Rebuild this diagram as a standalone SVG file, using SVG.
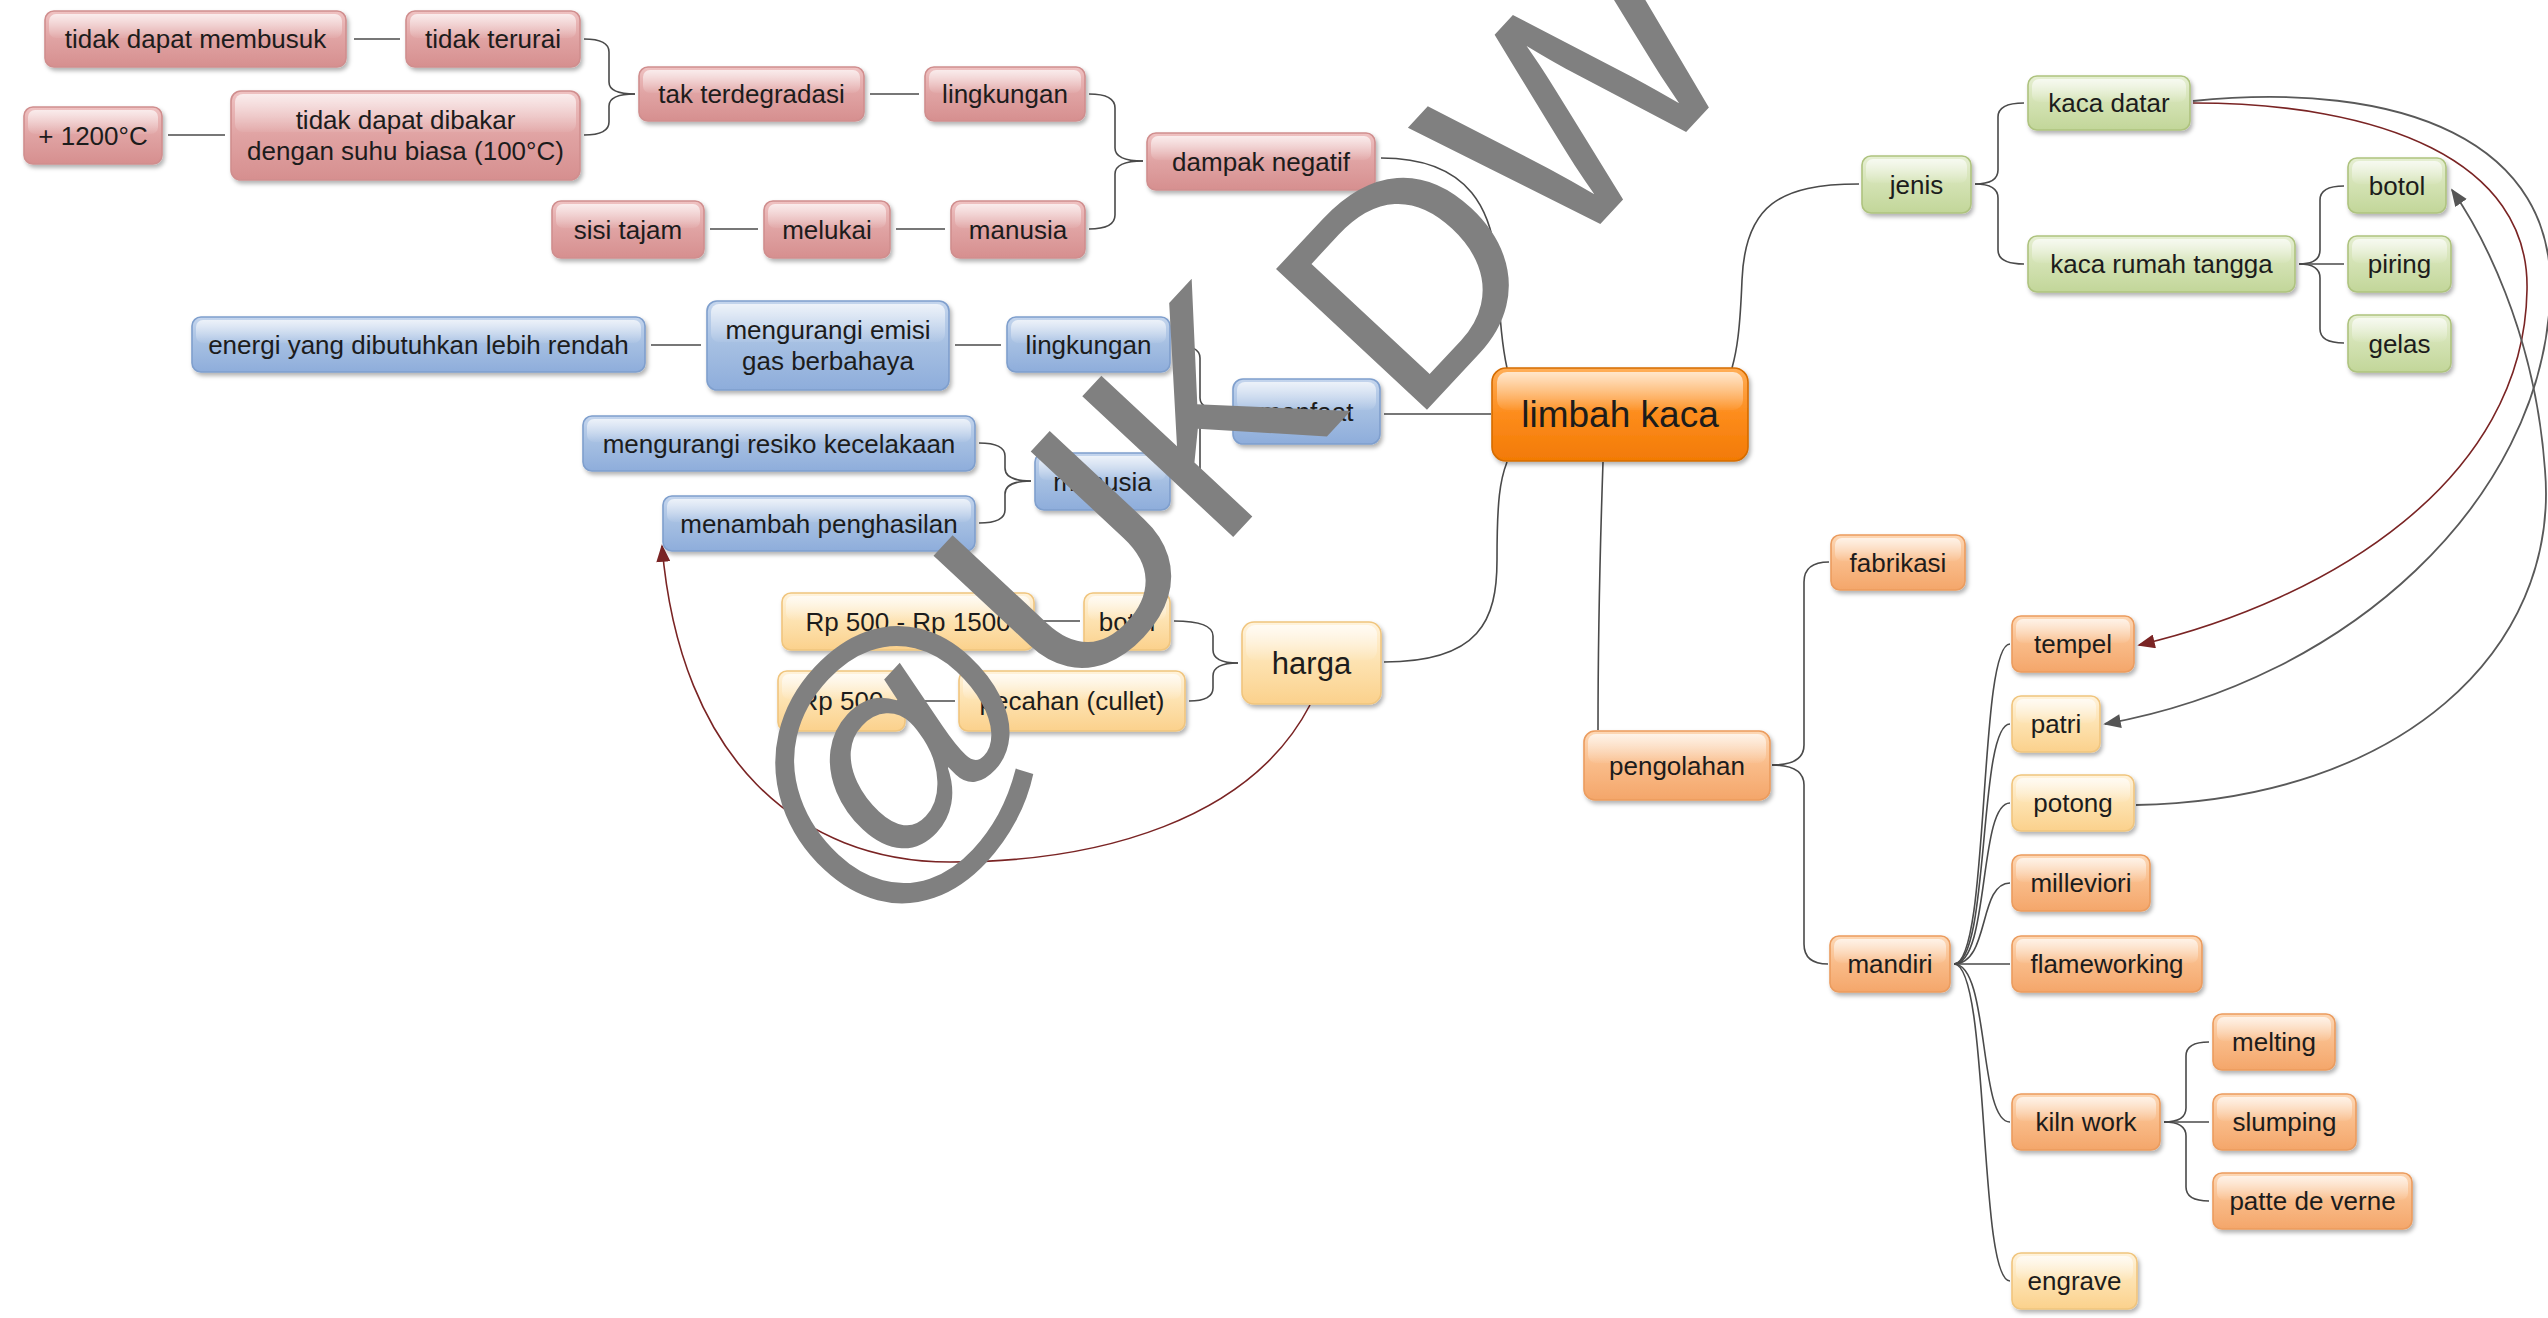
<svg xmlns="http://www.w3.org/2000/svg" width="2548" height="1318" viewBox="0 0 2548 1318">
<defs>
<linearGradient id="gR" x1="0" y1="0" x2="0" y2="1"><stop offset="0" stop-color="#efc2c2"/><stop offset="0.5" stop-color="#e0a3a3"/><stop offset="1" stop-color="#d68f8f"/></linearGradient>
<linearGradient id="gB" x1="0" y1="0" x2="0" y2="1"><stop offset="0" stop-color="#c4d5ed"/><stop offset="0.5" stop-color="#a5bfe2"/><stop offset="1" stop-color="#8eaddb"/></linearGradient>
<linearGradient id="gG" x1="0" y1="0" x2="0" y2="1"><stop offset="0" stop-color="#e6efd3"/><stop offset="0.5" stop-color="#d3e2b3"/><stop offset="1" stop-color="#c2d699"/></linearGradient>
<linearGradient id="gO" x1="0" y1="0" x2="0" y2="1"><stop offset="0" stop-color="#fdd8b6"/><stop offset="0.5" stop-color="#f9bb88"/><stop offset="1" stop-color="#f4a66a"/></linearGradient>
<linearGradient id="gY" x1="0" y1="0" x2="0" y2="1"><stop offset="0" stop-color="#fff3dc"/><stop offset="0.5" stop-color="#fde2b0"/><stop offset="1" stop-color="#fbd18c"/></linearGradient>
<linearGradient id="gC" x1="0" y1="0" x2="0" y2="1"><stop offset="0" stop-color="#ffae57"/><stop offset="0.5" stop-color="#fd8c1c"/><stop offset="1" stop-color="#f27a05"/></linearGradient>
<linearGradient id="gH" x1="0" y1="0" x2="0" y2="1"><stop offset="0" stop-color="#ffffff" stop-opacity="0.7"/><stop offset="1" stop-color="#ffffff" stop-opacity="0.05"/></linearGradient>
<filter id="sh" x="-10%" y="-20%" width="130%" height="160%"><feDropShadow dx="2" dy="3" stdDeviation="2" flood-color="#000" flood-opacity="0.3"/></filter>
<marker id="mG" viewBox="0 0 10 8" refX="9" refY="4" markerWidth="18" markerHeight="14" markerUnits="userSpaceOnUse" orient="auto"><path d="M0,0 L10,4 L0,8 z" fill="#555555"/></marker>
<marker id="mR" viewBox="0 0 10 8" refX="9" refY="4" markerWidth="18" markerHeight="14" markerUnits="userSpaceOnUse" orient="auto"><path d="M0,0 L10,4 L0,8 z" fill="#7a2424"/></marker>
<style>
.box{stroke-width:1.6;filter:url(#sh)}
.hl{fill:url(#gH)}
.r .box{fill:url(#gR);stroke:#d08e8e}
.b .box{fill:url(#gB);stroke:#7f9fcd}
.g .box{fill:url(#gG);stroke:#aec37f}
.o .box{fill:url(#gO);stroke:#eb9c5e}
.y .box{fill:url(#gY);stroke:#f0c57e}
.c .box{fill:url(#gC);stroke:#d56c00}
.t{font-family:"Liberation Sans",Arial,sans-serif;font-size:26px;fill:#1c1c1c;text-anchor:middle}
.big{font-size:37px}
.mid{font-size:31px}
.cn{fill:none;stroke:#4a4a4a;stroke-width:1.6}
.ag{fill:none;stroke:#595959;stroke-width:1.8;marker-end:url(#mG)}
.ar{fill:none;stroke:#7a2424;stroke-width:1.6;marker-end:url(#mR)}
.wm{font-family:"Liberation Sans",Arial,sans-serif;font-size:300px;fill:#808080;text-anchor:start}
</style>
</defs>
<rect width="2548" height="1318" fill="#ffffff"/>

<g id="connectors">
<path class="cn" d="M354,39 L400,39"/>
<path class="cn" d="M168,135 L225,135"/>
<path class="cn" d="M584,39 Q609,39 609,52 L609,82 Q609,94 635,94"/>
<path class="cn" d="M584,135 Q609,135 609,122 L609,106 Q609,94 635,94"/>
<path class="cn" d="M870,94 L919,94"/>
<path class="cn" d="M710,229 L758,229"/>
<path class="cn" d="M896,229 L945,229"/>
<path class="cn" d="M1089,94 Q1115,94 1115,108 L1115,148 Q1115,161 1143,161"/>
<path class="cn" d="M1089,229 Q1115,229 1115,215 L1115,174 Q1115,161 1143,161"/>
<path class="cn" d="M651,345 L701,345"/>
<path class="cn" d="M955,345 L1001,345"/>
<path class="cn" d="M1174,345 Q1200,345 1200,358 L1200,398 Q1200,411 1229,411"/>
<path class="cn" d="M1174,481 Q1200,481 1200,468 L1200,424 Q1200,411 1229,411"/>
<path class="cn" d="M979,443 Q1005,443 1005,456 L1005,468 Q1005,481 1031,481"/>
<path class="cn" d="M979,523 Q1005,523 1005,510 L1005,494 Q1005,481 1031,481"/>
<path class="cn" d="M1040,621 L1080,621"/>
<path class="cn" d="M911,701 L955,701"/>
<path class="cn" d="M1174,621 Q1213,621 1213,636 L1213,650 Q1213,663 1238,663"/>
<path class="cn" d="M1189,701 Q1213,701 1213,688 L1213,676 Q1213,663 1238,663"/>
<path class="cn" d="M1381,158 C1470,158 1495,210 1498,280 C1500,330 1503,350 1507,368"/>
<path class="cn" d="M1384,414 L1491,414"/>
<path class="cn" d="M1384,662 C1480,662 1497,620 1497,560 C1497,500 1500,480 1507,462"/>
<path class="cn" d="M1859,184 C1780,184 1745,205 1742,280 C1740,330 1737,350 1732,368"/>
<path class="cn" d="M1603,462 C1600,550 1598,650 1598,730"/>
<path class="cn" d="M1975,184 Q1998,184 1998,170 L1998,117 Q1998,103 2024,103"/>
<path class="cn" d="M1975,184 Q1998,184 1998,198 L1998,250 Q1998,264 2024,264"/>
<path class="cn" d="M2299,264 Q2320,264 2320,250 L2320,200 Q2320,186 2344,186"/>
<path class="cn" d="M2299,264 L2344,264"/>
<path class="cn" d="M2299,264 Q2320,264 2320,278 L2320,329 Q2320,343 2344,343"/>
<path class="cn" d="M1772,765 Q1804,765 1804,745 L1804,582 Q1804,562 1829,562"/>
<path class="cn" d="M1772,765 Q1804,765 1804,785 L1804,944 Q1804,964 1828,964"/>
<path class="cn" d="M1954,964 C1990,964 1978,644 2010,644"/>
<path class="cn" d="M1954,964 C1990,964 1978,724 2010,724"/>
<path class="cn" d="M1954,964 C1990,964 1978,803 2010,803"/>
<path class="cn" d="M1954,964 C1990,964 1978,883 2010,883"/>
<path class="cn" d="M1954,964 L2010,964"/>
<path class="cn" d="M1954,964 C1990,964 1978,1122 2010,1122"/>
<path class="cn" d="M1954,964 C1990,964 1978,1281 2010,1281"/>
<path class="cn" d="M2164,1122 Q2186,1122 2186,1108 L2186,1056 Q2186,1042 2209,1042"/>
<path class="cn" d="M2164,1122 L2209,1122"/>
<path class="cn" d="M2164,1122 Q2186,1122 2186,1136 L2186,1187 Q2186,1201 2209,1201"/>
<path class="ar" d="M1310,705 C1250,820 1100,862 950,862 C800,862 680,760 662,546"/>
<path class="ar" d="M2193,103 C2380,103 2530,160 2527,290 C2524,480 2330,600 2139,645"/>
<path class="ag" d="M2193,101 C2400,80 2560,140 2550,300 C2540,500 2350,680 2105,724"/>
<path class="ag" d="M2136,805 C2400,800 2560,650 2545,470 C2535,330 2480,230 2452,190"/>
</g>

<g id="n-tidak-dapat-membusuk" class="r"><rect class="box" x="45" y="11" width="301" height="56" rx="9"/><rect class="hl" x="49" y="14" width="293" height="24" rx="7"/><text class="t" x="195.5" y="48">tidak dapat membusuk</text></g>
<g id="n-tidak-terurai" class="r"><rect class="box" x="406" y="11" width="174" height="56" rx="9"/><rect class="hl" x="410" y="14" width="166" height="24" rx="7"/><text class="t" x="493" y="48">tidak terurai</text></g>
<g id="n-1200" class="r"><rect class="box" x="24" y="107" width="138" height="57" rx="9"/><rect class="hl" x="28" y="110" width="130" height="24" rx="7"/><text class="t" x="93" y="144.5">+ 1200°C</text></g>
<g id="n-tidak-dapat-dibakar" class="r"><rect class="box" x="231" y="91" width="349" height="89" rx="10"/><rect class="hl" x="235" y="94" width="341" height="38" rx="8"/><text class="t" x="405.5" y="129">tidak dapat dibakar</text><text class="t" x="405.5" y="160">dengan suhu biasa (100°C)</text></g>
<g id="n-tak-terdegradasi" class="r"><rect class="box" x="639" y="67" width="225" height="54" rx="9"/><rect class="hl" x="643" y="70" width="217" height="23" rx="7"/><text class="t" x="751.5" y="103">tak terdegradasi</text></g>
<g id="n-lingkungan-neg" class="r"><rect class="box" x="925" y="67" width="160" height="54" rx="9"/><rect class="hl" x="929" y="70" width="152" height="23" rx="7"/><text class="t" x="1005" y="103">lingkungan</text></g>
<g id="n-dampak-negatif" class="r"><rect class="box" x="1147" y="133" width="228" height="57" rx="9"/><rect class="hl" x="1151" y="136" width="220" height="24" rx="7"/><text class="t" x="1261" y="170.5">dampak negatif</text></g>
<g id="n-sisi-tajam" class="r"><rect class="box" x="552" y="201" width="152" height="57" rx="9"/><rect class="hl" x="556" y="204" width="144" height="24" rx="7"/><text class="t" x="628" y="238.5">sisi tajam</text></g>
<g id="n-melukai" class="r"><rect class="box" x="764" y="201" width="126" height="57" rx="9"/><rect class="hl" x="768" y="204" width="118" height="24" rx="7"/><text class="t" x="827" y="238.5">melukai</text></g>
<g id="n-manusia-neg" class="r"><rect class="box" x="951" y="201" width="134" height="57" rx="9"/><rect class="hl" x="955" y="204" width="126" height="24" rx="7"/><text class="t" x="1018" y="238.5">manusia</text></g>

<g id="n-energi" class="b"><rect class="box" x="192" y="317" width="453" height="55" rx="9"/><rect class="hl" x="196" y="320" width="445" height="23" rx="7"/><text class="t" x="418.5" y="353.5">energi yang dibutuhkan lebih rendah</text></g>
<g id="n-mengurangi-emisi" class="b"><rect class="box" x="707" y="301" width="242" height="89" rx="10"/><rect class="hl" x="711" y="304" width="234" height="38" rx="8"/><text class="t" x="828" y="339">mengurangi emisi</text><text class="t" x="828" y="370">gas berbahaya</text></g>
<g id="n-lingkungan-man" class="b"><rect class="box" x="1007" y="317" width="163" height="55" rx="9"/><rect class="hl" x="1011" y="320" width="155" height="23" rx="7"/><text class="t" x="1088.5" y="353.5">lingkungan</text></g>
<g id="n-manfaat" class="b"><rect class="box" x="1233" y="379" width="147" height="65" rx="10"/><rect class="hl" x="1237" y="382" width="139" height="28" rx="8"/><text class="t" x="1306.5" y="421">manfaat</text></g>
<g id="n-mengurangi-resiko" class="b"><rect class="box" x="583" y="416" width="392" height="55" rx="9"/><rect class="hl" x="587" y="419" width="384" height="23" rx="7"/><text class="t" x="779" y="452.5">mengurangi resiko kecelakaan</text></g>
<g id="n-manusia-man" class="b"><rect class="box" x="1035" y="453" width="135" height="57" rx="9"/><rect class="hl" x="1039" y="456" width="127" height="24" rx="7"/><text class="t" x="1102.5" y="490.5">manusia</text></g>
<g id="n-menambah" class="b"><rect class="box" x="663" y="496" width="312" height="55" rx="9"/><rect class="hl" x="667" y="499" width="304" height="23" rx="7"/><text class="t" x="819" y="532.5">menambah penghasilan</text></g>

<g id="n-limbah-kaca" class="c"><rect class="box" x="1492" y="368" width="256" height="93" rx="14"/><rect class="hl" x="1497" y="372" width="246" height="38" rx="10"/><text class="t big" x="1620" y="427">limbah kaca</text></g>

<g id="n-rp-500-1500" class="y"><rect class="box" x="782" y="593" width="252" height="57" rx="9"/><rect class="hl" x="786" y="596" width="244" height="24" rx="7"/><text class="t" x="908" y="630.5">Rp 500 - Rp 1500</text></g>
<g id="n-botol-harga" class="y"><rect class="box" x="1084" y="593" width="86" height="57" rx="9"/><rect class="hl" x="1088" y="596" width="78" height="24" rx="7"/><text class="t" x="1127" y="630.5">botol</text></g>
<g id="n-harga" class="y"><rect class="box" x="1242" y="622" width="139" height="82" rx="12"/><rect class="hl" x="1246" y="625" width="131" height="35" rx="9"/><text class="t mid" x="1311.5" y="674">harga</text></g>
<g id="n-rp-500" class="y"><rect class="box" x="778" y="671" width="127" height="60" rx="9"/><rect class="hl" x="782" y="674" width="119" height="25" rx="7"/><text class="t" x="841.5" y="710">Rp 500</text></g>
<g id="n-pecahan" class="y"><rect class="box" x="959" y="671" width="226" height="60" rx="9"/><rect class="hl" x="963" y="674" width="218" height="25" rx="7"/><text class="t" x="1072" y="710">pecahan (cullet)</text></g>

<g id="n-jenis" class="g"><rect class="box" x="1862" y="156" width="109" height="57" rx="9"/><rect class="hl" x="1866" y="159" width="101" height="24" rx="7"/><text class="t" x="1916.5" y="193.5">jenis</text></g>
<g id="n-kaca-datar" class="g"><rect class="box" x="2028" y="76" width="162" height="54" rx="9"/><rect class="hl" x="2032" y="79" width="154" height="23" rx="7"/><text class="t" x="2109" y="112">kaca datar</text></g>
<g id="n-kaca-rumah-tangga" class="g"><rect class="box" x="2028" y="236" width="267" height="56" rx="9"/><rect class="hl" x="2032" y="239" width="259" height="24" rx="7"/><text class="t" x="2161.5" y="273">kaca rumah tangga</text></g>
<g id="n-botol-jenis" class="g"><rect class="box" x="2348" y="158" width="98" height="55" rx="9"/><rect class="hl" x="2352" y="161" width="90" height="23" rx="7"/><text class="t" x="2397" y="194.5">botol</text></g>
<g id="n-piring" class="g"><rect class="box" x="2348" y="236" width="103" height="56" rx="9"/><rect class="hl" x="2352" y="239" width="95" height="24" rx="7"/><text class="t" x="2399.5" y="273">piring</text></g>
<g id="n-gelas" class="g"><rect class="box" x="2348" y="315" width="103" height="57" rx="9"/><rect class="hl" x="2352" y="318" width="95" height="24" rx="7"/><text class="t" x="2399.5" y="352.5">gelas</text></g>

<g id="n-pengolahan" class="o"><rect class="box" x="1584" y="731" width="186" height="69" rx="11"/><rect class="hl" x="1588" y="734" width="178" height="29" rx="8"/><text class="t" x="1677" y="775">pengolahan</text></g>
<g id="n-fabrikasi" class="o"><rect class="box" x="1831" y="535" width="134" height="55" rx="9"/><rect class="hl" x="1835" y="538" width="126" height="23" rx="7"/><text class="t" x="1898" y="571.5">fabrikasi</text></g>
<g id="n-mandiri" class="o"><rect class="box" x="1830" y="936" width="120" height="56" rx="9"/><rect class="hl" x="1834" y="939" width="112" height="24" rx="7"/><text class="t" x="1890" y="973">mandiri</text></g>
<g id="n-tempel" class="o"><rect class="box" x="2012" y="616" width="122" height="56" rx="9"/><rect class="hl" x="2016" y="619" width="114" height="24" rx="7"/><text class="t" x="2073" y="653">tempel</text></g>
<g id="n-patri" class="y"><rect class="box" x="2012" y="696" width="88" height="56" rx="9"/><rect class="hl" x="2016" y="699" width="80" height="24" rx="7"/><text class="t" x="2056" y="733">patri</text></g>
<g id="n-potong" class="y"><rect class="box" x="2012" y="775" width="122" height="56" rx="9"/><rect class="hl" x="2016" y="778" width="114" height="24" rx="7"/><text class="t" x="2073" y="812">potong</text></g>
<g id="n-milleviori" class="o"><rect class="box" x="2012" y="855" width="138" height="56" rx="9"/><rect class="hl" x="2016" y="858" width="130" height="24" rx="7"/><text class="t" x="2081" y="892">milleviori</text></g>
<g id="n-flameworking" class="o"><rect class="box" x="2012" y="936" width="190" height="56" rx="9"/><rect class="hl" x="2016" y="939" width="182" height="24" rx="7"/><text class="t" x="2107" y="973">flameworking</text></g>
<g id="n-kiln-work" class="o"><rect class="box" x="2012" y="1094" width="148" height="56" rx="9"/><rect class="hl" x="2016" y="1097" width="140" height="24" rx="7"/><text class="t" x="2086" y="1131">kiln work</text></g>
<g id="n-melting" class="o"><rect class="box" x="2213" y="1014" width="122" height="56" rx="9"/><rect class="hl" x="2217" y="1017" width="114" height="24" rx="7"/><text class="t" x="2274" y="1051">melting</text></g>
<g id="n-slumping" class="o"><rect class="box" x="2213" y="1094" width="143" height="56" rx="9"/><rect class="hl" x="2217" y="1097" width="135" height="24" rx="7"/><text class="t" x="2284.5" y="1131">slumping</text></g>
<g id="n-patte-de-verne" class="o"><rect class="box" x="2213" y="1173" width="199" height="56" rx="9"/><rect class="hl" x="2217" y="1176" width="191" height="24" rx="7"/><text class="t" x="2312.5" y="1210">patte de verne</text></g>
<g id="n-engrave" class="y"><rect class="box" x="2012" y="1253" width="125" height="56" rx="9"/><rect class="hl" x="2016" y="1256" width="117" height="24" rx="7"/><text class="t" x="2074.5" y="1290">engrave</text></g>

<text class="wm" transform="translate(1277,490) rotate(-47)" x="-610" y="0" dx="0 0 0 25 0" dy="0 0 0 55 0">@UKDW</text>
</svg>
